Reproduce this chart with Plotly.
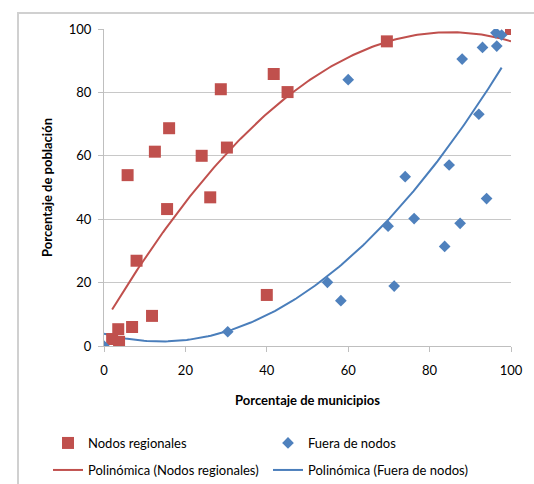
import numpy as np
import plotly.graph_objects as go

# Nodos regionales (x = % municipios, y = % población)
nodos_x = [2.0, 3.5, 3.7, 5.8, 6.9, 8.0, 11.8, 12.5, 15.5, 16.0, 24.0, 26.1, 28.7, 30.2, 40.0, 41.7, 45.1, 69.5, 100.0]
nodos_y = [2.2, 5.3, 1.3, 53.9, 6.0, 26.9, 9.5, 61.3, 43.2, 68.7, 60.0, 46.9, 81.0, 62.6, 16.1, 85.8, 80.1, 96.1, 100.0]

# Fuera de nodos
fuera_x = [0.0, 30.4, 54.9, 58.2, 60.0, 69.8, 71.3, 74.0, 76.2, 83.7, 84.8, 87.5, 88.0, 92.1, 93.0, 94.0, 96.3, 96.5, 97.7]
fuera_y = [0.0, 4.5, 20.1, 14.3, 84.0, 37.8, 18.9, 53.4, 40.2, 31.4, 57.1, 38.7, 90.5, 73.1, 94.2, 46.5, 98.8, 94.6, 98.1]

# Polynomial (order 2) trendline coefficients, highest power first
nodos_trend_coef = [-0.0127, 2.159, 7.24]
fuera_trend_coef = [0.01236, -0.3486, 3.89]

tick_vals = [0, 20, 40, 60, 80, 100]

RED = "#C0504D"
BLUE = "#4F81BD"
FONT = "Lato"

def trend(xs, coef, n=150):
    xx = np.linspace(min(xs), max(xs), n)
    return xx, np.polyval(coef, xx)

rx, ry = trend(nodos_x, nodos_trend_coef)
bx, by = trend(fuera_x, fuera_trend_coef)

fig = go.Figure()
fig.add_trace(go.Scatter(x=rx, y=ry, mode="lines", line=dict(color=RED, width=2),
                         name="Polinómica (Nodos regionales)", legend="legend3", hoverinfo="skip"))
fig.add_trace(go.Scatter(x=bx, y=by, mode="lines", line=dict(color="#4A7EBB", width=2),
                         name="Polinómica (Fuera de nodos)", legend="legend4", hoverinfo="skip"))
fig.add_trace(go.Scatter(x=nodos_x, y=nodos_y, mode="markers",
                         marker=dict(symbol="square", size=12, color=RED, line=dict(width=0)),
                         name="Nodos regionales", legend="legend"))
fig.add_trace(go.Scatter(x=fuera_x, y=fuera_y, mode="markers",
                         marker=dict(symbol="diamond", size=9, color=BLUE, line=dict(width=0)),
                         name="Fuera de nodos", legend="legend2"))

W, H = 534, 484
L, R, T, B = 104, 23, 29, 138
pw, ph = W - L - R, H - T - B

def px_x(p):
    return (p - L) / pw

def px_y(p):
    return (H - B - p) / ph

leg_common = dict(orientation="h", xanchor="left", yanchor="middle",
                  bgcolor="rgba(0,0,0,0)", font=dict(family=FONT, size=13, color="#000000"),
                  borderwidth=0)

FRAME_COLOR = "#D0D0D0"
frame = dict(color=FRAME_COLOR, width=2)

fig.update_layout(
    width=W, height=H,
    margin=dict(l=L, r=R, t=T, b=B, autoexpand=False),
    paper_bgcolor="white", plot_bgcolor="white",
    font=dict(family=FONT, size=13, color="#000000"),
    showlegend=True,
    legend=dict(x=px_x(90 - 42), y=px_y(443), **leg_common),
    legend2=dict(x=px_x(310 - 42), y=px_y(443), **leg_common),
    legend3=dict(x=px_x(90 - 42), y=px_y(470), **leg_common),
    legend4=dict(x=px_x(310 - 42), y=px_y(470), **leg_common),
    xaxis=dict(
        range=[0, 100], tickvals=tick_vals, showgrid=False, zeroline=False,
        showline=True, linecolor="#BFBFBF", linewidth=1,
        ticks="outside", ticklen=5, tickcolor="#BFBFBF",
        tickfont=dict(family=FONT, size=13, color="#000000"),
        ticklabelstandoff=7,
        title=dict(text="<b>Porcentaje de municipios</b>", standoff=19,
                   font=dict(family=FONT, size=13, color="#000000")),
        fixedrange=True,
    ),
    yaxis=dict(
        range=[0, 100], tickvals=tick_vals, showgrid=True, gridcolor="#C8C8C8", gridwidth=1,
        zeroline=False, showline=True, linecolor="#BFBFBF", linewidth=1,
        ticks="outside", ticklen=5, tickcolor="#BFBFBF",
        tickfont=dict(family=FONT, size=13, color="#000000"),
        ticklabelstandoff=4,
        title=dict(text="<b>Porcentaje de población</b>", standoff=13,
                   font=dict(family=FONT, size=13, color="#000000")),
        fixedrange=True,
    ),
    shapes=[
        dict(type="line", xref="paper", yref="paper",
             x0=px_x(18), x1=px_x(534), y0=px_y(13), y1=px_y(13), line=frame, layer="above"),
        dict(type="line", xref="paper", yref="paper",
             x0=px_x(18), x1=px_x(18), y0=px_y(13), y1=px_y(484), line=frame, layer="above"),
    ],
)

post = (
    "document.body.style.margin='0';document.body.style.overflow='hidden';"
    "var d=document.createElement('div');"
    "d.style.cssText='position:absolute;left:17px;top:12px;width:640px;height:640px;"
    "border:2px solid " + FRAME_COLOR + ";pointer-events:none;box-sizing:border-box;';"
    "document.body.appendChild(d);"
)

fig.write_html("out.html", config={"displayModeBar": False}, post_script=post)
